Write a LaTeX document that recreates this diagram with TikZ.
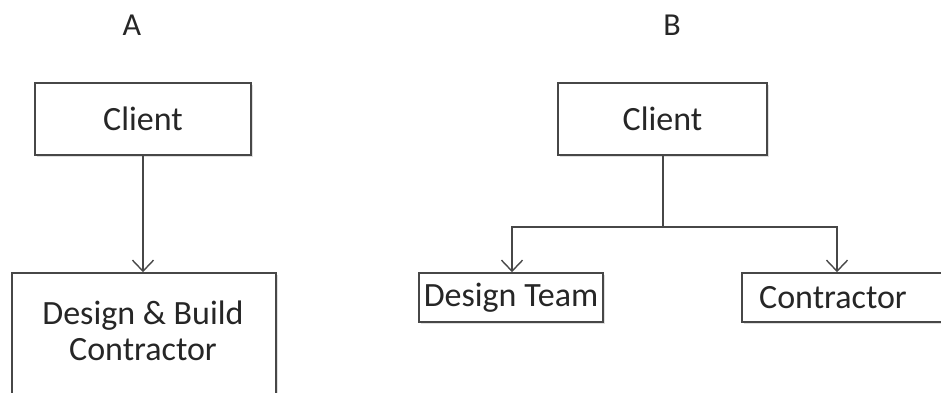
\documentclass[tikz,border=0pt]{standalone}
\usepackage{fontspec}
\setmainfont{Carlito}
\usetikzlibrary{arrows.meta,shadows}
\begin{document}
\begin{tikzpicture}[x=1pt,y=-1pt,
  line col/.style={draw=black!72, line width=1.6pt},
  orgbox/.style={line col, fill=white, rectangle, inner sep=0pt,
    drop shadow={shadow xshift=2pt, shadow yshift=-2pt, opacity=0.25, fill=black!50}},
  label/.style={font=\fontsize{34}{36}\selectfont, text=black!85, align=center},
  link/.style={line col, -{Straight Barb[length=11pt,width=21pt,line width=1.4pt]}},
  heading/.style={font=\fontsize{32}{36}\selectfont, text=black!85}]
\useasboundingbox (0,0) rectangle (941,392);
\clip (0,0) rectangle (941,392);
% headings
\node[heading] (hA) at (132,25) {A};
\node[heading] (hB) at (672,25) {B};
% structure A
\node[orgbox, minimum width=216pt, minimum height=72pt] (clientA) at (143,119) {};
\node[label] at (clientA) {Client};
\node[orgbox, minimum width=264pt, minimum height=160pt] (dbc) at (144,353) {};
\node[label] at (143,331) {Design \& Build\\Contractor};
\draw[link] (clientA.south) -- (clientA.south |- dbc.north);
% structure B
\node[orgbox, minimum width=209pt, minimum height=72pt] (clientB) at (662.5,119) {};
\node[label] at (clientB) {Client};
\node[orgbox, minimum width=184pt, minimum height=49pt] (team) at (511,297.5) {};
\node[label] at (team) {Design Team};
\node[orgbox, minimum width=230pt, minimum height=49pt] (contr) at (857,297.5) {};
\node[label] at (833,297.5) {Contractor};
\coordinate (split) at (663,227);
\draw[line col] (clientB.south -| split) -- (split);
\draw[link] (split) -| (512,0 |- team.north);
\draw[link] (split) -| (837,0 |- contr.north);
\end{tikzpicture}
\end{document}
